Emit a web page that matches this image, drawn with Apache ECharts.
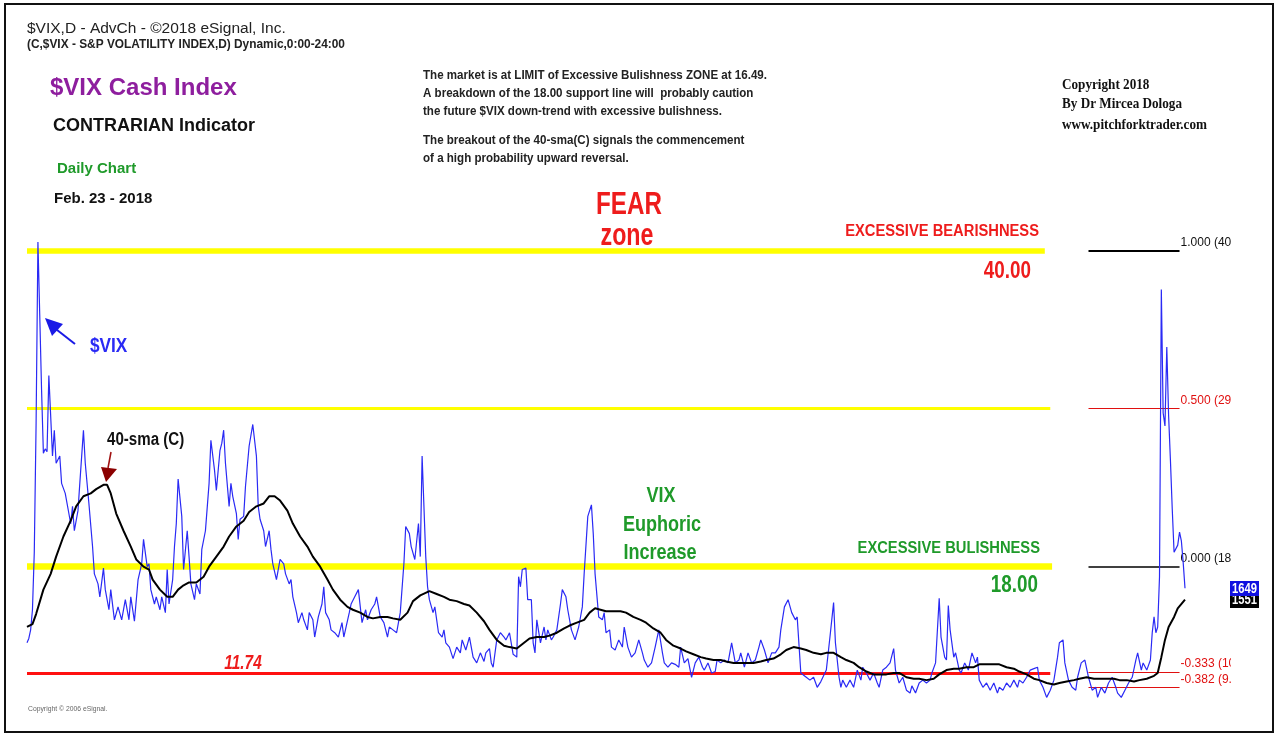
<!DOCTYPE html>
<html>
<head>
<meta charset="utf-8">
<script src="https://cdn.jsdelivr.net/npm/echarts@6/dist/echarts.min.js"></script>
<style>
html,body{margin:0;padding:0;background:#fff;}
#chart{width:1279px;height:734px;}
</style>
</head>
<body>
<div id="chart"></div>
<script>
// ---------- DATA (trading-day index from Aug 14 2015, close values) ----------
const vixDays = [0,1,2,3,4,5,6,7,8,9,10,11,12,14,15,16,18,19,21,23,24,25,26,28,29,31,32,34,36,37,39,40,42,43,45,46,48,50,52,54,56,57,59,61,63,64,66,67,68,70,71,73,74,76,77,78,80,81,82,83,85,86,88,89,90,92,93,95,96,98,100,101,103,104,106,107,108,109,111,112,113,115,116,117,119,120,122,124,126,127,128,130,131,133,134,135,137,138,139,141,142,144,145,146,148,149,151,152,154,155,157,158,160,162,163,164,166,167,169,171,173,174,177,178,180,182,184,186,187,189,191,192,194,196,198,199,201,203,205,207,208,210,211,213,215,216,217,219,220,221,223,224,226,228,229,230,232,234,236,238,239,241,243,245,247,249,251,252,254,255,256,258,260,262,263,265,267,269,270,271,272,274,275,277,278,279,280,282,284,285,286,288,289,291,293,294,296,297,299,301,303,305,306,308,310,311,312,314,316,317,318,320,321,323,325,327,328,330,332,334,336,338,339,341,343,345,347,349,350,352,354,356,358,359,361,363,365,367,369,371,372,374,376,378,379,381,383,385,387,389,391,392,394,396,398,400,402,403,405,407,409,411,413,414,416,418,420,422,423,425,426,428,430,432,434,436,437,439,441,443,444,446,447,448,450,452,454,456,458,459,461,463,465,467,468,470,472,474,476,477,479,481,483,485,486,488,490,492,494,496,497,499,501,502,504,505,506,507,509,510,512,513,515,517,519,521,522,523,525,527,529,531,533,534,536,538,540,542,544,545,547,549,551,553,555,556,558,560,562,564,566,567,569,570,572,574,576,577,579,581,583,585,587,588,590,592,594,596,598,599,601,603,605,607,609,610,612,613,615,617,618,619,620,621,622,623,624,625,626,627,628,629,630,631,632,633,634,635,636];
const vixValues = [12.7,13.0,13.6,15.0,19.0,28.0,40.6,35.5,30.3,25.9,26.2,26.0,31.3,25.7,27.5,25.2,25.7,23.8,23.1,21.7,21.0,22.2,20.5,21.9,23.8,27.5,25.2,22.4,19.4,17.5,16.8,15.9,17.9,16.4,15.0,16.4,14.3,15.2,14.3,15.7,14.3,15.9,14.2,17.1,18.2,19.9,18.0,18.2,16.4,15.4,15.9,15.0,15.9,14.8,17.8,15.4,17.1,19.4,21.0,24.1,21.5,17.8,20.5,18.7,16.8,15.7,16.8,16.1,19.2,20.5,23.8,26.8,24.7,23.3,26.1,26.6,27.5,25.2,22.2,23.8,22.9,21.7,19.9,21.3,21.5,23.6,26.4,27.9,25.7,22.2,21.3,20.5,19.4,20.5,19.2,18.2,17.1,17.1,18.5,18.2,17.5,16.8,17.1,15.9,14.8,14.1,14.8,14.3,13.6,14.8,14.3,13.1,14.5,15.4,16.6,14.8,14.3,13.6,13.4,13.1,14.1,13.1,14.8,15.4,15.9,16.4,14.1,15.0,14.3,15.0,15.4,15.9,14.5,14.1,13.1,13.8,13.6,13.4,14.8,18.2,20.8,20.3,19.4,18.5,21.0,18.7,25.7,18.7,16.6,15.7,14.8,15.2,13.4,13.1,13.6,12.7,12.4,11.6,12.4,12.0,12.9,12.2,13.1,11.7,11.3,12.0,11.4,12.0,12.3,11.3,11.0,12.9,13.4,13.1,12.9,13.4,11.9,11.7,17.3,16.6,17.8,17.9,15.7,15.7,12.7,12.0,14.3,12.7,13.8,12.9,13.6,12.9,13.1,13.6,15.4,16.4,15.9,15.0,13.6,12.9,13.8,15.2,17.5,21.5,22.3,20.3,17.5,14.5,14.3,14.8,13.4,13.6,12.4,12.2,12.9,12.4,13.8,12.4,11.7,12.0,12.9,12.0,11.5,11.0,11.3,12.4,13.6,12.0,11.3,11.0,11.3,11.2,11.0,12.4,11.3,11.6,10.3,11.3,11.7,11.0,10.8,11.3,10.6,10.7,11.5,11.3,11.5,11.3,12.7,11.3,11.5,12.0,11.0,12.0,11.3,11.5,12.4,12.9,12.2,11.3,12.0,12.0,12.4,13.6,15.2,15.7,14.8,14.3,14.5,10.6,10.5,10.3,10.1,10.3,9.6,10.0,10.1,10.8,13.1,15.5,12.7,10.3,9.6,10.1,9.6,10.1,9.6,10.8,10.1,11.0,10.6,10.1,10.6,9.9,9.6,10.8,11.0,11.3,12.3,10.8,9.9,10.3,9.4,9.2,9.7,9.2,9.9,10.1,9.9,10.1,10.6,11.3,15.8,13.1,11.7,11.5,15.3,13.6,11.7,12.0,10.8,10.6,11.3,10.8,12.0,11.3,11.7,10.1,9.6,9.9,9.4,9.9,9.2,9.6,9.4,9.9,9.6,10.1,9.6,10.1,9.9,10.3,10.8,10.9,11.0,10.1,9.6,8.9,9.4,10.1,11.7,12.7,12.9,11.3,10.1,9.6,9.4,10.3,11.3,11.5,10.3,9.4,9.6,8.9,9.6,9.2,9.9,10.3,9.6,9.2,8.9,9.4,9.9,10.3,11.5,12.0,10.8,11.3,10.8,11.5,13.4,14.5,13.4,13.8,17.3,37.3,28.7,27.8,33.3,28.5,25.4,22.0,19.0,19.0,19.5,20.4,19.8,18.3,16.5];

const smaDays = [0,3,5,9,13,16,20,24,27,31,35,38,42,44,46,49,53,57,60,64,67,69,73,77,80,83,86,89,93,97,100,104,108,111,115,119,122,126,130,133,136,139,143,146,150,154,157,161,165,168,172,176,179,183,187,190,194,198,201,205,209,212,216,221,225,229,232,236,240,243,247,251,254,258,262,265,269,273,276,280,284,287,291,295,298,302,306,309,312,315,318,322,326,329,333,337,340,344,348,351,355,359,362,366,370,373,377,381,384,388,392,395,399,403,406,410,414,417,421,425,428,432,436,439,443,447,450,454,457,461,465,468,472,476,479,483,487,490,494,498,501,505,509,512,516,520,523,527,531,534,538,542,545,549,553,556,560,564,567,571,575,578,582,586,589,593,597,600,604,608,611,615,619,621,623,625,627,630,632,636];
const smaValues = [13.8,14.0,14.7,16.4,17.5,18.7,20.1,21.2,22.2,22.9,23.1,23.4,23.7,23.7,23.1,21.7,20.5,19.4,18.5,18.0,17.8,17.1,16.4,15.9,15.9,16.4,16.7,16.9,16.9,17.3,18.0,18.7,19.4,20.1,20.8,21.2,21.8,22.2,22.4,22.9,22.9,22.6,21.9,21.0,20.1,19.4,18.7,18.0,17.1,16.4,15.7,15.2,15.0,14.8,14.5,14.4,14.5,14.5,14.4,14.3,14.8,15.6,16.0,16.3,16.1,15.9,15.7,15.6,15.4,15.3,14.8,14.2,13.6,12.9,12.5,12.4,12.3,12.7,13.0,13.1,13.1,13.2,13.4,13.7,13.9,14.1,14.3,14.8,15.1,15.0,14.9,14.9,14.9,14.8,14.5,14.3,14.1,13.7,13.4,12.9,12.5,12.3,12.1,11.9,11.7,11.6,11.5,11.5,11.4,11.3,11.3,11.3,11.3,11.4,11.5,11.6,11.9,12.2,12.4,12.3,12.2,12.0,11.9,12.0,12.0,11.7,11.5,11.3,11.0,10.7,10.5,10.5,10.5,10.6,10.6,10.3,10.2,10.2,10.1,10.2,10.5,10.8,10.9,10.9,11.0,11.0,11.2,11.2,11.2,11.2,11.0,10.9,10.7,10.5,10.2,10.1,9.9,9.8,9.9,10.0,10.1,10.2,10.3,10.2,10.2,10.2,10.2,10.1,10.1,10.0,10.1,10.2,10.4,10.6,11.7,12.9,13.8,14.5,15.1,15.7];

// horizontal zone levels
const fearLevel = 40.00;
const midLevel = 29.00;
const bullLevel = 18.00;
const supportLevel = 10.6;      // drawn line position
const supportLabel = "11.74";   // label as printed
// ratio levels on the right
const fibRatios = ["1.000", "0.500", "0.000", "-0.333", "-0.382"];
const fibValues = [40.00, 29.00, 18.00, 10.67, 9.60];
const lastVix = "1649";
const lastSma = "1551";

// ---------- LAYOUT ----------
const N = 636;
const zoneEnd = { top: 559, mid: 562, bull: 563, sup: 562 };
const fibStart = 583, fibEnd = 633;
const sans = "'Liberation Sans',Arial,sans-serif";
const serif = "'Liberation Serif','Times New Roman',serif";

const vixData = vixDays.map((d, i) => [d, vixValues[i]]);
const smaData = smaDays.map((d, i) => [d, smaValues[i]]);

function seg(y, x0, x1, color, width) {
  return [{ coord: [x0, y], lineStyle: { color: color, width: width, type: 'solid' } }, { coord: [x1, y] }];
}
const fibColors = ['#000', '#e01010', '#000', '#e01010', '#e01010'];
const fibWidths = [1.8, 1.2, 1.5, 1.2, 1.2];
const fibLines = fibValues.map((v, i) => {
  const s = seg(v, fibStart, fibEnd, fibColors[i], fibWidths[i]);
  s[0].label = {
    show: true, position: 'end', distance: 1,
    formatter: fibRatios[i] + ' (' + v.toFixed(2) + ')',
    color: fibColors[i] === '#000' ? '#111' : '#e01010',
    fontFamily: sans, fontSize: 12, align: 'left', verticalAlign: 'bottom',
    padding: [0, 0, 2, 0]
  };
  return s;
});

const chart = echarts.init(document.getElementById('chart'), null, { renderer: 'canvas' });

// text helper with horizontal condensing (sx)
function txt(text, x, y, font, fill, align, sx) {
  return { type: 'text', z: 100, x: x, y: y, scaleX: sx || 1,
    style: { text: text, x: 0, y: 0, font: font, fill: fill,
      textAlign: align || 'left', textVerticalAlign: 'middle', align: align || 'left', verticalAlign: 'middle' } };
}

const option = {
  animation: false,
  backgroundColor: '#fff',
  grid: { left: 27, right: 94, top: 193.2, bottom: 23.7 },
  xAxis: { type: 'value', min: 0, max: N, show: false },
  yAxis: { type: 'value', min: 8, max: 44, show: false },
  series: [
    {
      type: 'line', data: vixData, showSymbol: false, symbol: 'none', z: 3,
      lineStyle: { color: '#2a2af5', width: 1.2 },
      markLine: {
        silent: true, symbol: 'none', animation: false, z: 1,
        label: { show: false },
        data: [
          seg(fearLevel, 0, zoneEnd.top, '#ffff00', 5.5),
          seg(midLevel, 0, zoneEnd.mid, '#ffff00', 3),
          seg(bullLevel, 0, zoneEnd.bull, '#ffff00', 6.5),
          seg(supportLevel, 0, zoneEnd.sup, '#ff1010', 3)
        ].concat(fibLines)
      }
    },
    {
      type: 'line', data: smaData, showSymbol: false, symbol: 'none', z: 4,
      lineStyle: { color: '#000', width: 2 }
    }
  ],
  graphic: [
    // clip of right-hand level labels
    { type: 'rect', z: 90, shape: { x: 1231, y: 225, width: 41, height: 480 }, style: { fill: '#fff' } },
    // last value boxes
    { type: 'rect', z: 95, shape: { x: 1230, y: 595, width: 29, height: 13 }, style: { fill: '#000' } },
    txt(lastSma, 1244.5, 600, 'bold 14px ' + sans, '#fff', 'center', 0.8),
    { type: 'rect', z: 101, shape: { x: 1230, y: 581, width: 29, height: 15 }, style: { fill: '#1010e0' } },
    { type: 'text', z: 102, x: 1244.5, y: 589, scaleX: 0.8, style: { text: lastVix, x: 0, y: 0, font: 'bold 14px ' + sans, fill: '#fff', textAlign: 'center', textVerticalAlign: 'middle', align: 'center', verticalAlign: 'middle' } },

    // frame
    { type: 'rect', z: 110, shape: { x: 5, y: 4, width: 1268, height: 728 }, style: { fill: 'none', stroke: '#111', lineWidth: 2 } },

    // header texts
    txt('$VIX,D - AdvCh - \u00a92018 eSignal, Inc.', 27, 29, '15.5px ' + sans, '#222'),
    txt('(C,$VIX - S&P VOLATILITY INDEX,D) Dynamic,0:00-24:00', 27, 45, 'bold 12px ' + sans, '#222', 'left', 0.99),
    txt('$VIX Cash Index', 50, 88, 'bold 24px ' + sans, '#8e1e9e'),
    txt('CONTRARIAN Indicator', 53, 126, 'bold 18px ' + sans, '#111'),
    txt('Daily Chart', 57, 169, 'bold 15px ' + sans, '#1f9a2a'),
    txt('Feb. 23 - 2018', 54, 199, 'bold 15px ' + sans, '#111'),

    txt('The market is at LIMIT of Excessive Bulishness ZONE at 16.49.', 423, 75, 'bold 13px ' + sans, '#222', 'left', 0.89),
    txt('A breakdown of the 18.00 support line will  probably caution', 423, 93, 'bold 13px ' + sans, '#222', 'left', 0.89),
    txt('the future $VIX down-trend with excessive bulishness.', 423, 111, 'bold 13px ' + sans, '#222', 'left', 0.89),
    txt('The breakout of the 40-sma(C) signals the commencement', 423, 140, 'bold 13px ' + sans, '#222', 'left', 0.89),
    txt('of a high probability upward reversal.', 423, 158, 'bold 13px ' + sans, '#222', 'left', 0.89),

    txt('Copyright 2018', 1062, 85, 'bold 14px ' + serif, '#111', 'left', 0.94),
    txt('By Dr Mircea Dologa', 1062, 104, 'bold 14px ' + serif, '#111', 'left', 0.94),
    txt('www.pitchforktrader.com', 1062, 125, 'bold 14px ' + serif, '#111', 'left', 0.94),

    txt('FEAR', 629, 205, 'bold 31px ' + sans, '#ee1c1c', 'center', 0.78),
    txt('zone', 627, 236, 'bold 31px ' + sans, '#ee1c1c', 'center', 0.75),
    txt('EXCESSIVE BEARISHNESS', 1039, 232, 'bold 16px ' + sans, '#ee1c1c', 'right', 0.92),
    txt('40.00', 1031, 272, 'bold 23px ' + sans, '#ee1c1c', 'right', 0.82),

    txt('VIX', 661, 496, 'bold 22px ' + sans, '#1f9a2a', 'center', 0.82),
    txt('Euphoric', 662, 525, 'bold 22px ' + sans, '#1f9a2a', 'center', 0.82),
    txt('Increase', 660, 553, 'bold 22px ' + sans, '#1f9a2a', 'center', 0.82),
    txt('EXCESSIVE BULISHNESS', 1040, 549, 'bold 16px ' + sans, '#1f9a2a', 'right', 0.92),
    txt('18.00', 1038, 586, 'bold 23px ' + sans, '#1f9a2a', 'right', 0.82),

    txt('$VIX', 90, 346, 'bold 21px ' + sans, '#2a2af5', 'left', 0.82),
    { type: 'line', z: 100, shape: { x1: 75, y1: 344, x2: 52, y2: 326 }, style: { stroke: '#1a1ae6', lineWidth: 2 } },
    { type: 'polygon', z: 100, shape: { points: [[45, 318], [63, 324], [52, 336]] }, style: { fill: '#1a1ae6' } },

    txt('40-sma (C)', 107, 440, 'bold 18px ' + sans, '#111', 'left', 0.84),
    { type: 'line', z: 100, shape: { x1: 111, y1: 452, x2: 108, y2: 468 }, style: { stroke: '#a01010', lineWidth: 1.5 } },
    { type: 'polygon', z: 100, shape: { points: [[101, 467], [117, 469], [106, 482]] }, style: { fill: '#8b0000' } },

    txt(supportLabel, 243, 663, 'italic bold 20px ' + sans, '#ee1c1c', 'center', 0.77),
    txt('Copyright \u00a9 2006 eSignal.', 28, 709, '8px ' + sans, '#666', 'left', 0.85)
  ]
};
chart.setOption(option);
</script>
</body>
</html>
